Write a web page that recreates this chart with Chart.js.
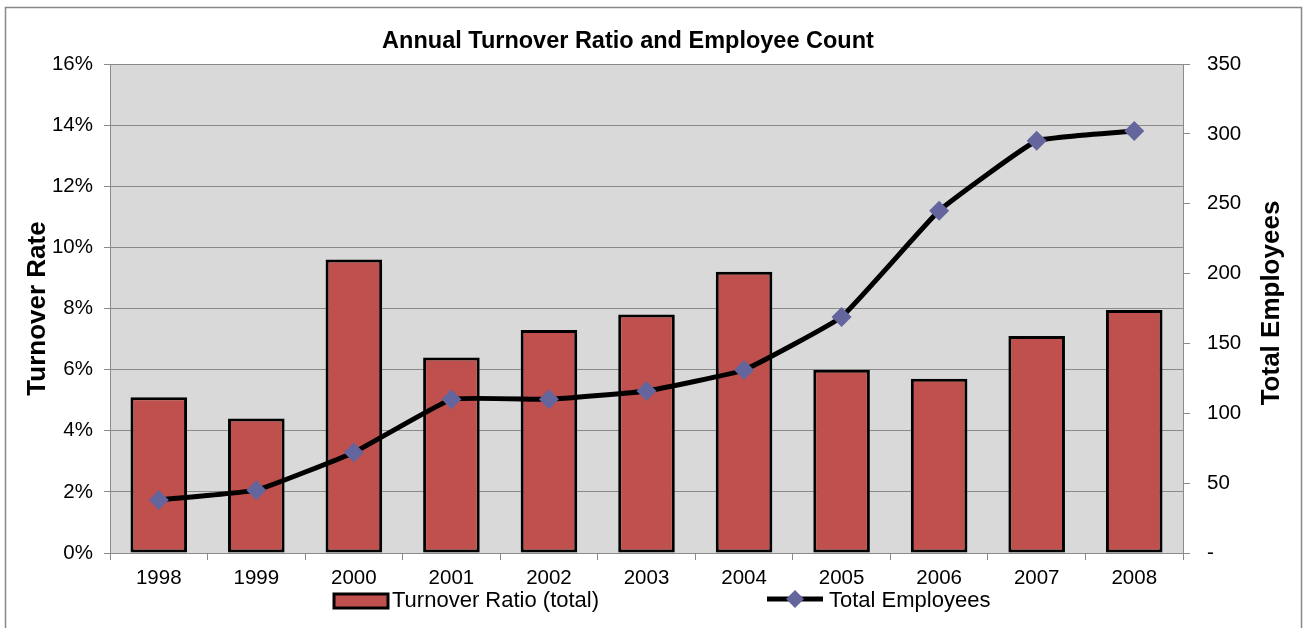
<!DOCTYPE html>
<html>
<head>
<meta charset="utf-8">
<script src="https://cdn.jsdelivr.net/npm/chart.js@4.4.1/dist/chart.umd.min.js"></script>
<style>
  html, body { margin: 0; padding: 0; background: #fff; }
  #wrap { width: 1304px; height: 628px; }
</style>
</head>
<body>
<div id="wrap"><canvas id="chart" width="1304" height="628"></canvas></div>
<script>
// values
var years = ['1998', '1999', '2000', '2001', '2002', '2003', '2004', '2005', '2006', '2007', '2008'];
var turnoverPct = [5.1, 4.4, 9.6, 6.4, 7.3, 7.8, 9.2, 6.0, 5.7, 7.1, 7.95];
var employees = [38, 45, 72, 110, 110, 116, 131, 169, 245, 295, 302];

var chartTitle = 'Annual Turnover Ratio and Employee Count';
var leftTitle = 'Turnover Rate';
var rightTitle = 'Total Employees';

var FONT = "'Liberation Sans', Arial, sans-serif";
var BAR_RED = '#c0504d';
var MARKER = '#65659e';
var GRID = '#8a8a8a';

// background, frame, title, right axis title and the legend
var excelLook = {
  id: 'excelLook',
  beforeDraw: function(chart) {
    var ctx = chart.ctx, a = chart.chartArea;
    ctx.save();
    ctx.fillStyle = '#fff';
    ctx.fillRect(0, 0, chart.width, chart.height);
    ctx.fillStyle = '#d9d9d9';
    ctx.fillRect(a.left, a.top, a.right - a.left, a.bottom - a.top);
    ctx.strokeStyle = '#888';
    ctx.lineWidth = 1.5;
    ctx.strokeRect(5.5, 7.5, 1296, 660);
    ctx.restore();
  },
  afterDraw: function(chart) {
    var ctx = chart.ctx;
    var ds = chart.data.datasets;
    ctx.save();
    ctx.fillStyle = '#000';

    // chart title
    ctx.font = 'bold 23.5px ' + FONT;
    ctx.textAlign = 'center';
    ctx.textBaseline = 'alphabetic';
    ctx.fillText(chartTitle, 628, 48);

    // right axis title, reading bottom to top
    ctx.save();
    ctx.translate(1279, 303);
    ctx.rotate(-Math.PI / 2);
    ctx.font = 'bold 26px ' + FONT;
    ctx.fillText(rightTitle, 0, 0);
    ctx.restore();

    // legend
    ctx.font = '22px ' + FONT;
    ctx.textAlign = 'left';
    ctx.textBaseline = 'middle';

    ctx.fillStyle = ds[0].backgroundColor;
    ctx.fillRect(334, 594, 54, 14);
    ctx.strokeStyle = ds[0].borderColor;
    ctx.lineWidth = 3;
    ctx.strokeRect(334, 594, 54, 14);
    ctx.fillStyle = '#000';
    ctx.fillText(ds[0].label, 392, 601);

    ctx.strokeStyle = ds[1].borderColor;
    ctx.lineWidth = 5;
    ctx.beginPath();
    ctx.moveTo(767, 599);
    ctx.lineTo(823, 599);
    ctx.stroke();
    ctx.fillStyle = ds[1].pointBackgroundColor;
    ctx.beginPath();
    ctx.moveTo(795, 590);
    ctx.lineTo(804, 599);
    ctx.lineTo(795, 608);
    ctx.lineTo(786, 599);
    ctx.closePath();
    ctx.fill();
    ctx.fillStyle = '#000';
    ctx.fillText(ds[1].label, 829, 601);

    ctx.restore();
  }
};

var turnoverChart = new Chart(document.getElementById('chart'), {
  data: {
    labels: years,
    datasets: [{
      type: 'bar',
      label: 'Turnover Ratio (total)',
      data: turnoverPct,
      yAxisID: 'yPct',
      backgroundColor: BAR_RED,
      borderColor: '#000',
      borderWidth: 3,
      borderSkipped: false,
      categoryPercentage: 1,
      barPercentage: 0.58,
      order: 2
    }, {
      type: 'line',
      label: 'Total Employees',
      data: employees,
      yAxisID: 'yEmp',
      borderColor: '#000',
      borderWidth: 5,
      tension: 0.1,
      pointStyle: 'rectRot',
      pointRadius: 10,
      pointBackgroundColor: MARKER,
      pointBorderColor: MARKER,
      pointBorderWidth: 0,
      fill: false,
      order: 1
    }]
  },
  options: {
    responsive: false,
    animation: false,
    layout: { padding: { top: 64, left: 0, right: 0, bottom: 0 } },
    plugins: {
      legend: { display: false },
      title: { display: false },
      tooltip: { enabled: false }
    },
    scales: {
      x: {
        type: 'category',
        offset: true,
        grid: { offset: true, drawOnChartArea: false, color: GRID, tickLength: 7 },
        border: { color: GRID },
        ticks: { color: '#000', font: { family: FONT, size: 20.5 }, padding: 6, maxRotation: 0 },
        afterFit: function(s) { s.height = 75; }
      },
      yPct: {
        position: 'left',
        min: 0,
        max: 16,
        ticks: {
          stepSize: 2,
          color: '#000',
          font: { family: FONT, size: 20.5 },
          padding: 11,
          callback: function(v) { return v + '%'; }
        },
        grid: { color: GRID, tickLength: 6 },
        border: { color: GRID },
        title: {
          display: true,
          text: leftTitle,
          color: '#000',
          font: { family: FONT, size: 26, weight: 'bold' },
          padding: { top: 22, bottom: 0 }
        },
        afterFit: function(s) { s.width = 110; }
      },
      yEmp: {
        position: 'right',
        min: 0,
        max: 350,
        ticks: {
          stepSize: 50,
          color: '#000',
          font: { family: FONT, size: 20.5 },
          padding: 17,
          callback: function(v) { return v === 0 ? '-' : v; }
        },
        grid: { drawOnChartArea: false, color: GRID, tickLength: 7 },
        border: { color: GRID },
        afterFit: function(s) { s.width = 121; }
      }
    }
  },
  plugins: [excelLook]
});
</script>
</body>
</html>
